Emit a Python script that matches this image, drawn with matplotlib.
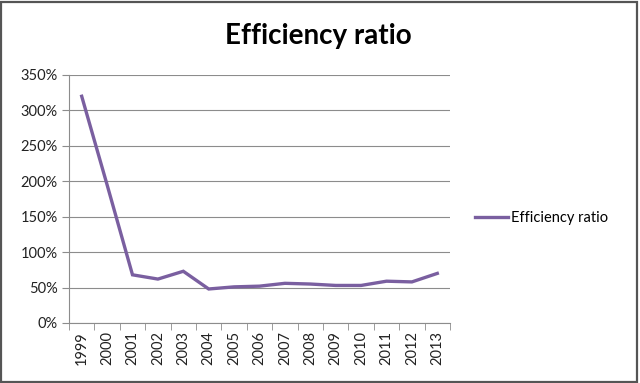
import numpy as np
import matplotlib.pyplot as plt
from matplotlib.patches import Rectangle

years = ["1999", "2000", "2001", "2002", "2003", "2004", "2005", "2006",
         "2007", "2008", "2009", "2010", "2011", "2012", "2013"]
ratio = [3.20, 1.95, 0.68, 0.62, 0.73, 0.48, 0.51, 0.52,
         0.56, 0.55, 0.53, 0.53, 0.59, 0.58, 0.70]

plt.rcParams['font.family'] = ['Lato', 'DejaVu Sans']

fig = plt.figure(figsize=(6.4, 3.83), dpi=100)
ax = fig.add_axes([69/640, 1-323/383, 381/640, 248/383])

x = np.arange(len(years))
line, = ax.plot(x, ratio, color="#7A5FA0", lw=2.4, solid_joinstyle="miter",
                label="Efficiency ratio")

ax.set_xlim(-0.5, len(years) - 0.5)
ax.set_ylim(0, 3.5)
ax.set_yticks(np.arange(0, 3.51, 0.5))
ax.set_yticklabels([f"{int(round(v*100))}%" for v in np.arange(0, 3.51, 0.5)])
ax.yaxis.grid(True, color="#8c8c8c", lw=0.8)
ax.set_axisbelow(True)

ax.set_xticks(x)
ax.set_xticklabels(years, rotation=90)
ax.set_xticks(np.arange(-0.5, len(years), 1), minor=True)
ax.tick_params(axis="x", which="major", length=0, pad=6)
ax.tick_params(axis="x", which="minor", length=5, color="#8c8c8c")
ax.tick_params(axis="y", length=5, color="#8c8c8c", pad=3)
ax.tick_params(labelsize=10.5, labelcolor="#222222")

for s in ["top", "right"]:
    ax.spines[s].set_visible(False)
for s in ["left", "bottom"]:
    ax.spines[s].set_color("#8c8c8c")
    ax.spines[s].set_linewidth(0.8)

fig.text(0.498, 0.905, "Efficiency ratio", ha="center", va="center",
         fontsize=20, fontweight="bold")

fig.legend(handles=[line], loc="center left", bbox_to_anchor=(0.742, 0.43),
           frameon=False, fontsize=10.5, handlelength=2.3, handletextpad=0.2,
           borderaxespad=0, borderpad=0)

fig.patches.append(Rectangle((0.002, 0.003), 0.994, 0.993, transform=fig.transFigure,
                             fill=False, edgecolor="#555555", lw=1.6))

fig.savefig("out.png", dpi=100)
